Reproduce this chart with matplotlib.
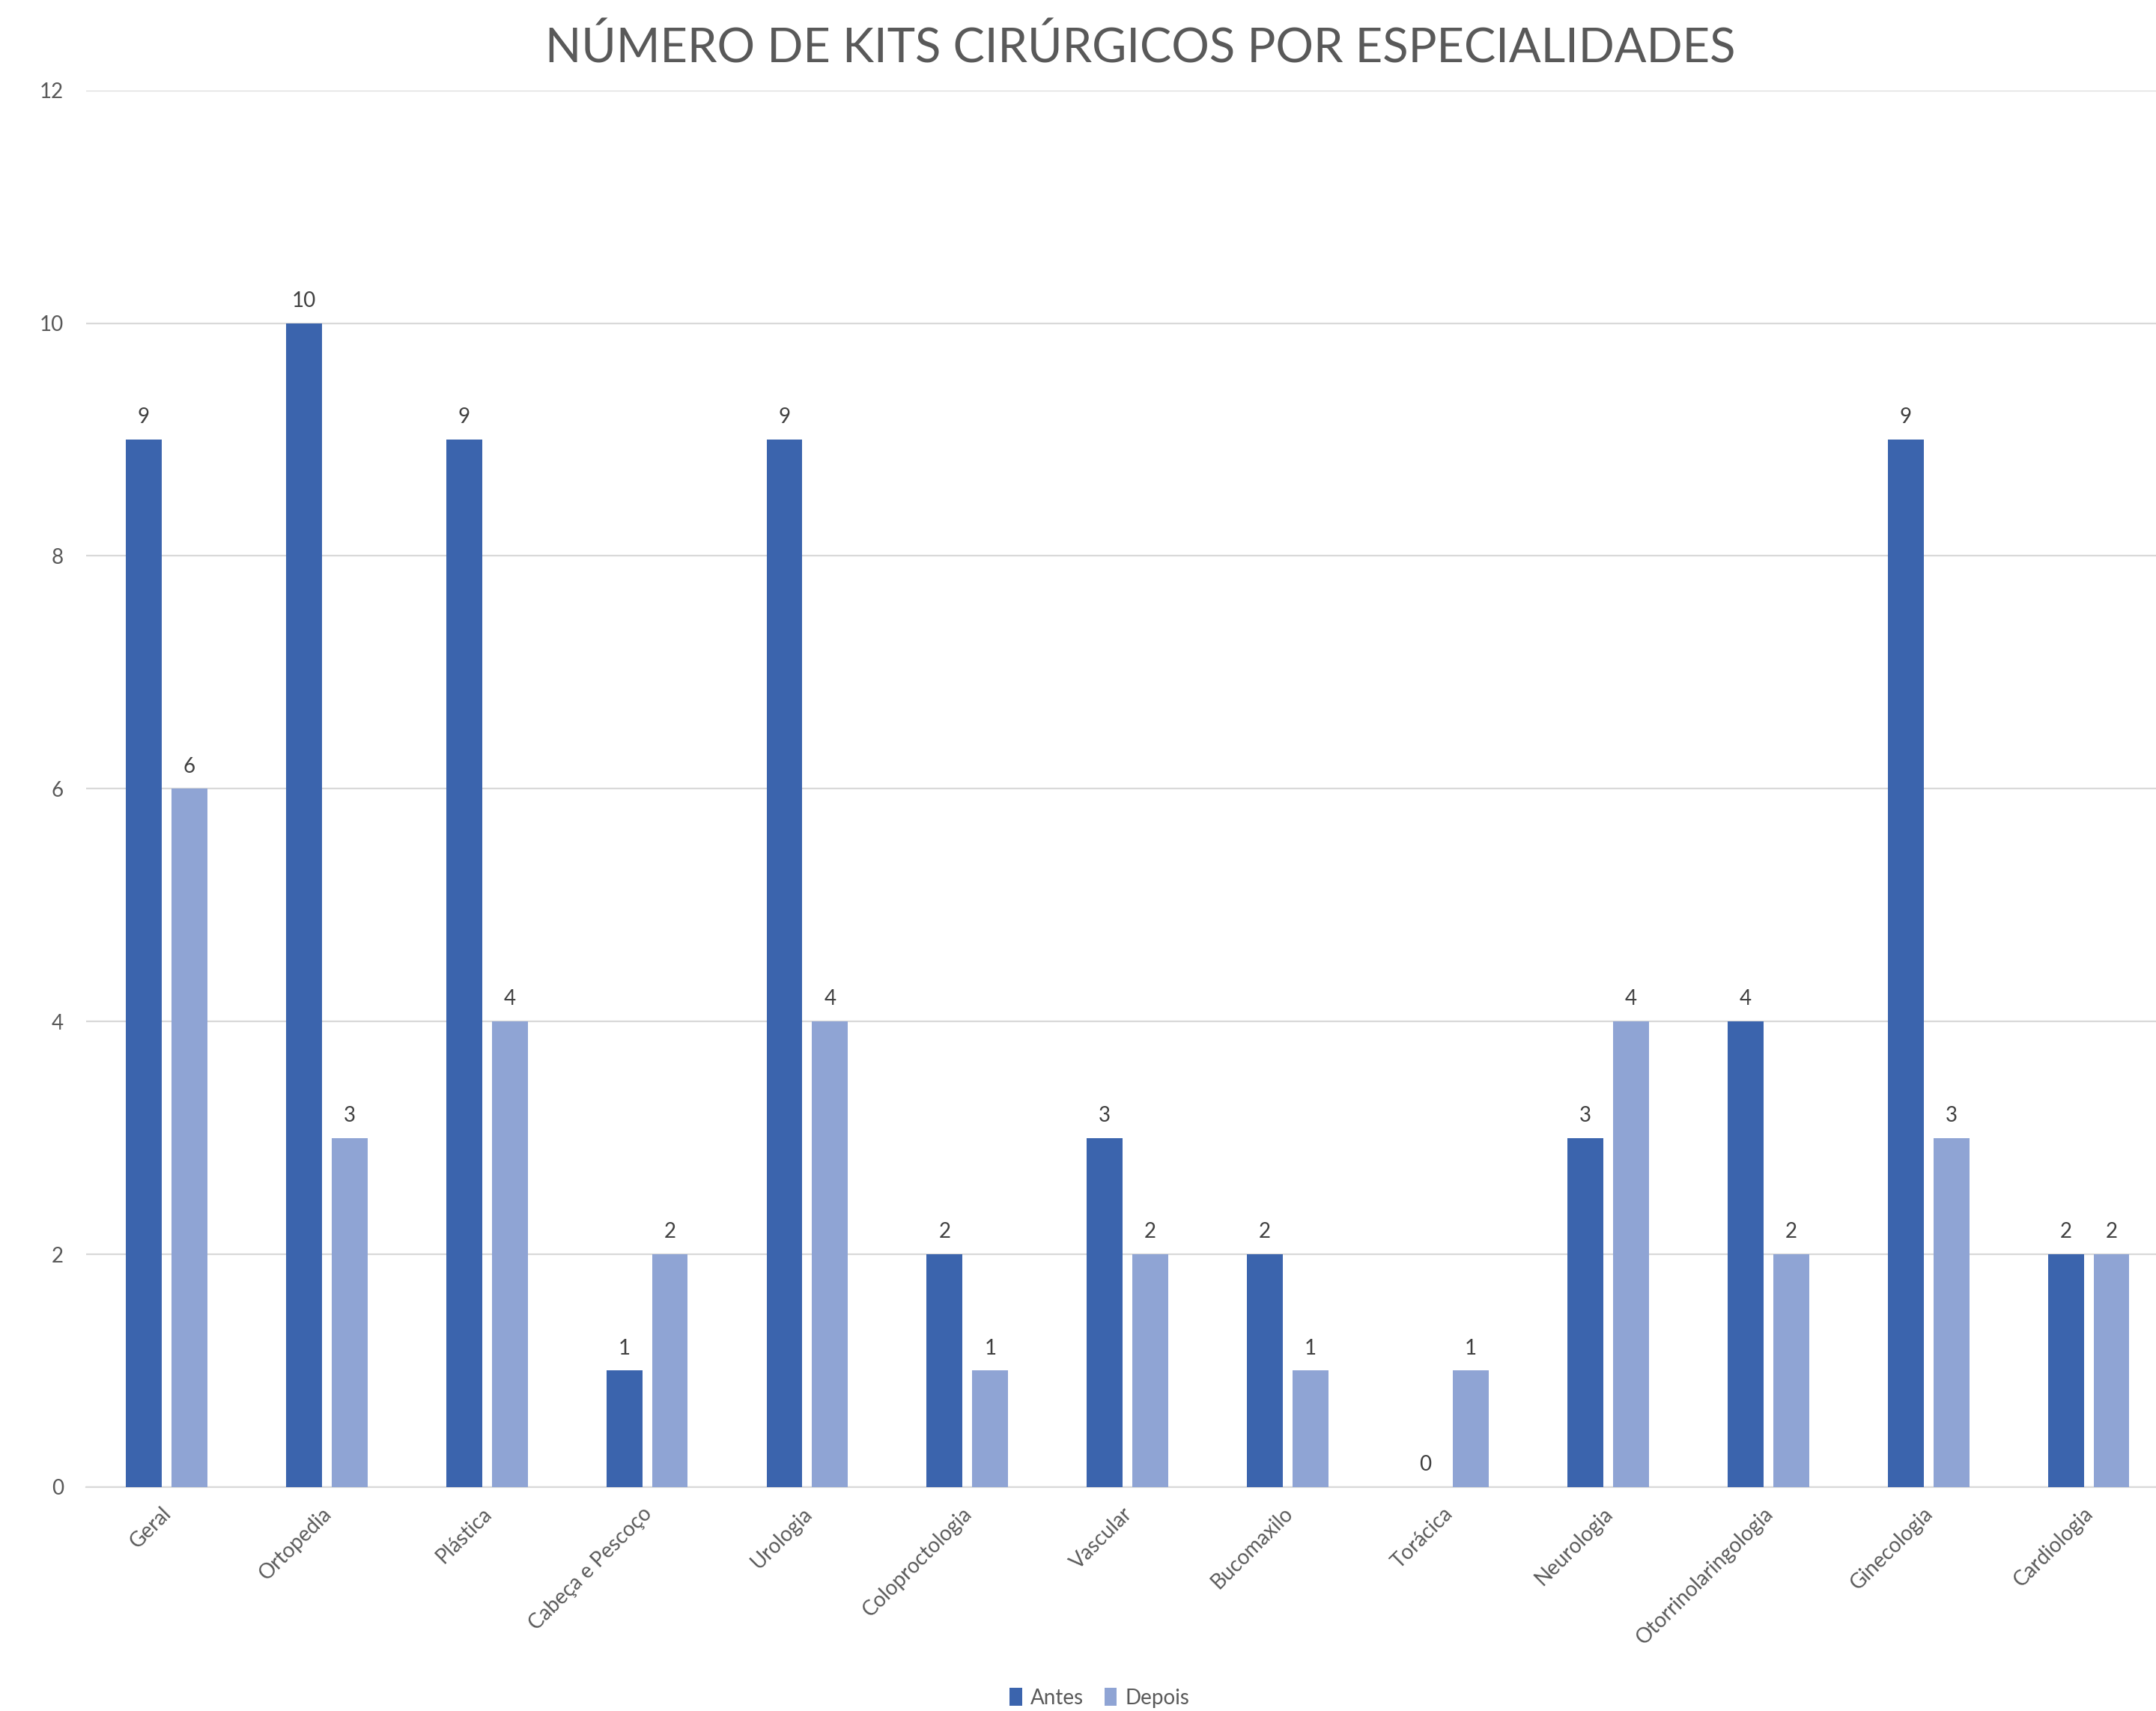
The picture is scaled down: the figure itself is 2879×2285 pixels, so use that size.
import numpy as np
import matplotlib
matplotlib.use("Agg")
import matplotlib.pyplot as plt
import matplotlib.transforms as mtransforms

plt.rcParams['font.family'] = ['Lato', 'DejaVu Sans']

# data
categorias = ["Geral", "Ortopedia", "Plástica", "Cabeça e Pescoço", "Urologia",
              "Coloproctologia", "Vascular", "Bucomaxilo", "Torácica", "Neurologia",
              "Otorrinolaringologia", "Ginecologia", "Cardiologia"]
antes = [9, 10, 9, 1, 9, 2, 3, 2, 0, 3, 4, 9, 2]
depois = [6, 3, 4, 2, 4, 1, 2, 1, 1, 4, 2, 3, 2]
series = ["Antes", "Depois"]
yticks = [0, 2, 4, 6, 8, 10, 12]

cor_antes = "#3B64AD"
cor_depois = "#8FA4D4"
cinza = "#595959"

fig = plt.figure(figsize=(28.79, 22.85), dpi=100)
# o eixo passa um pouco da borda direita, como no original
ax = fig.add_axes([0.0401, 0.1309, 0.9658, 0.8163])

x = np.arange(len(categorias))
w = 0.224
off = w / 2 + 0.0305
b1 = ax.bar(x - off, antes, w, color=cor_antes, label=series[0], zorder=3)
b2 = ax.bar(x + off, depois, w, color=cor_depois, label=series[1], zorder=3)

for bars in (b1, b2):
    for r in bars:
        h = r.get_height()
        ax.annotate(str(int(h)), (r.get_x() + r.get_width() / 2, h),
                    xytext=(0, 12), textcoords="offset points",
                    ha="center", va="bottom", fontsize=20, color="#404040")

ax.set_xlim(-0.5, len(categorias) - 0.5)
ax.set_ylim(0, 12)
ax.set_yticks(yticks)
ax.set_yticklabels([str(t) for t in yticks], fontsize=20, color=cinza)
ax.yaxis.grid(True, color="#D9D9D9", linewidth=1.6, zorder=0)
ax.tick_params(axis="y", length=0, pad=22)
ax.tick_params(axis="x", length=0, pad=16)

ax.set_xticks(x)
ax.set_xticklabels(categorias, rotation=45, ha="right", rotation_mode="anchor",
                   fontsize=20, color=cinza)
desloc = mtransforms.ScaledTranslation(-0.07, 0, fig.dpi_scale_trans)
for lbl in ax.get_xticklabels():
    lbl.set_transform(lbl.get_transform() + desloc)

for s in ["top", "right", "left"]:
    ax.spines[s].set_visible(False)
ax.spines["bottom"].set_color("#D9D9D9")
ax.spines["bottom"].set_linewidth(1.6)

fig.text(0.529, 0.985, "NÚMERO DE KITS CIRÚRGICOS POR ESPECIALIDADES",
         ha="center", va="top", fontsize=45.5, color=cinza)

fig.legend(loc="lower center", bbox_to_anchor=(0.51, -0.009), ncol=2, frameon=False,
           fontsize=20, handlelength=0.6, handleheight=0.9, handletextpad=0.4,
           columnspacing=1.0, labelcolor=cinza)

fig.savefig("out.png", dpi=100)
